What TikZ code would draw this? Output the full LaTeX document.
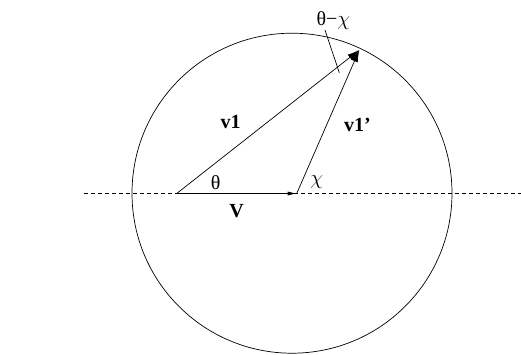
\documentclass[tikz,border=0pt]{standalone}
\usepackage{fontspec}
\setmainfont{Liberation Serif}
\usetikzlibrary{arrows.meta}
\begin{document}
\begin{tikzpicture}[x=1pt,y=-1pt,
  lbl/.style={inner sep=0pt,font=\fontsize{20}{24}\selectfont},
  blbl/.style={inner sep=0pt,font=\fontsize{20}{24}\selectfont\bfseries},
  thin line/.style={line width=0.7pt},
  bigtip/.style={-{Latex[length=12pt,width=7pt]}},
  smalltip/.style={-{Latex[length=9pt,width=4pt]}}]
\useasboundingbox (0,0) rectangle (521,354);
\coordinate (L) at (84,193.5);
\coordinate (R) at (521,193.5);
\coordinate (O) at (292,193.2);
\coordinate (A) at (176.7,193.5);
\coordinate (B) at (296.7,193.5);
\coordinate (C) at (359.3,50);
\coordinate (T1) at (325,30);
\coordinate (T2) at (339.3,72.7);
\draw[thin line, dash pattern=on 4pt off 3pt] (L) -- (R);
\draw[thin line] (O) circle (160);
\draw[thin line, bigtip] (A) -- (C);
\draw[thin line, bigtip] (B) -- (C);
\draw[thin line, smalltip] (A) -- (B);
\draw[thin line] (T1) -- (T2);
\node[lbl] (tc) at (333.3,21) {θ−$\chi$};
\node[blbl] (v1) at (230.7,121.7) {v1};
\node[blbl] (v1p) at (357.5,125) {v1’};
\node[lbl] (th) at (215.7,182.7) {θ};
\node[lbl] (chi) at (316.7,181.7) {$\chi$};
\node[blbl] (V) at (236.7,210.7) {V};
\end{tikzpicture}
\end{document}
